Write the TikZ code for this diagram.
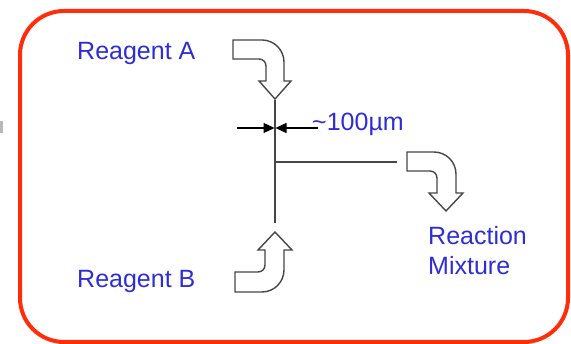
\documentclass[tikz,border=0pt]{standalone}
\usepackage{fontspec}
\setmainfont{Liberation Sans}
\usetikzlibrary{arrows.meta}
\definecolor{framered}{RGB}{255,45,10}
\definecolor{labelblue}{RGB}{45,45,215}
\definecolor{linegrey}{RGB}{70,70,70}
\tikzset{
  lbl/.style={text=labelblue, inner sep=0pt, anchor=base west, font=\fontsize{25}{30}\selectfont, align=left},
  blockarrow/.style={draw=linegrey, line width=1.4pt, fill=white, line join=miter},
  channel/.style={draw=linegrey, line width=1.6pt},
  dim/.style={draw=black, line width=1.2pt, -{Triangle[length=11pt,width=10pt]}}
}
\begin{document}
\begin{tikzpicture}[x=1pt,y=-1pt]
\useasboundingbox (0,0) rectangle (571,344);
% frame
\draw[framered, line width=4pt, rounded corners=44pt] (20,11) rectangle (568,342);
% small grey fragment at left edge
\fill[gray!55] (0,121) rectangle (3,133);
% labels
\node[lbl] (ra) at (77,60) {Reagent A};
\node[lbl] (rb) at (77,288) {Reagent B};
\node[lbl] (dimlabel) at (312,131) {\textasciitilde100µm};
\node[lbl, anchor=north west] (rm) at (428,226) {Reaction\\Mixture};
% channel
\coordinate (ctop) at (275,100);
\coordinate (cbot) at (275,223);
\coordinate (cjoin) at (275,162);
\coordinate (cout) at (397,162);
\draw[channel] (ctop) -- (cbot);
\draw[channel] (cjoin) -- (cout);
% dimension arrows
\coordinate (dl0) at (237,128);
\coordinate (dl1) at (274.5,128);
\coordinate (dr0) at (318,128);
\coordinate (dr1) at (275.5,128);
\draw[dim] (dl0) -- (dl1);
\draw[dim] (dr0) -- (dr1);
% block arrow A (in)
\draw[blockarrow] (233,40) -- (262,40) .. controls (274.1,40) and (284,49.9) .. (284,62)
  -- (284,81) -- (291,81) -- (275,99) -- (259,81) -- (266,81) -- (266,66)
  .. controls (266,62.1) and (262.9,59) .. (259,59) -- (233,59) -- cycle;
% block arrow B (in)
\draw[blockarrow] (235,272) -- (258,272) .. controls (261.9,272) and (265,268.9) .. (265,265)
  -- (265,250) -- (258,250) -- (275,232) -- (292,250) -- (284,250) -- (284,270)
  .. controls (284,282.1) and (274.1,292) .. (262,292) -- (235,292) -- cycle;
% block arrow C (out)
\draw[blockarrow] (407,152) -- (434,152) .. controls (446.1,152) and (456,161.9) .. (456,174)
  -- (456,193) -- (463,193) -- (446,211) -- (429,193) -- (437,193) -- (437,178)
  .. controls (437,174.1) and (433.9,171) .. (430,171) -- (407,171) -- cycle;
\end{tikzpicture}
\end{document}
